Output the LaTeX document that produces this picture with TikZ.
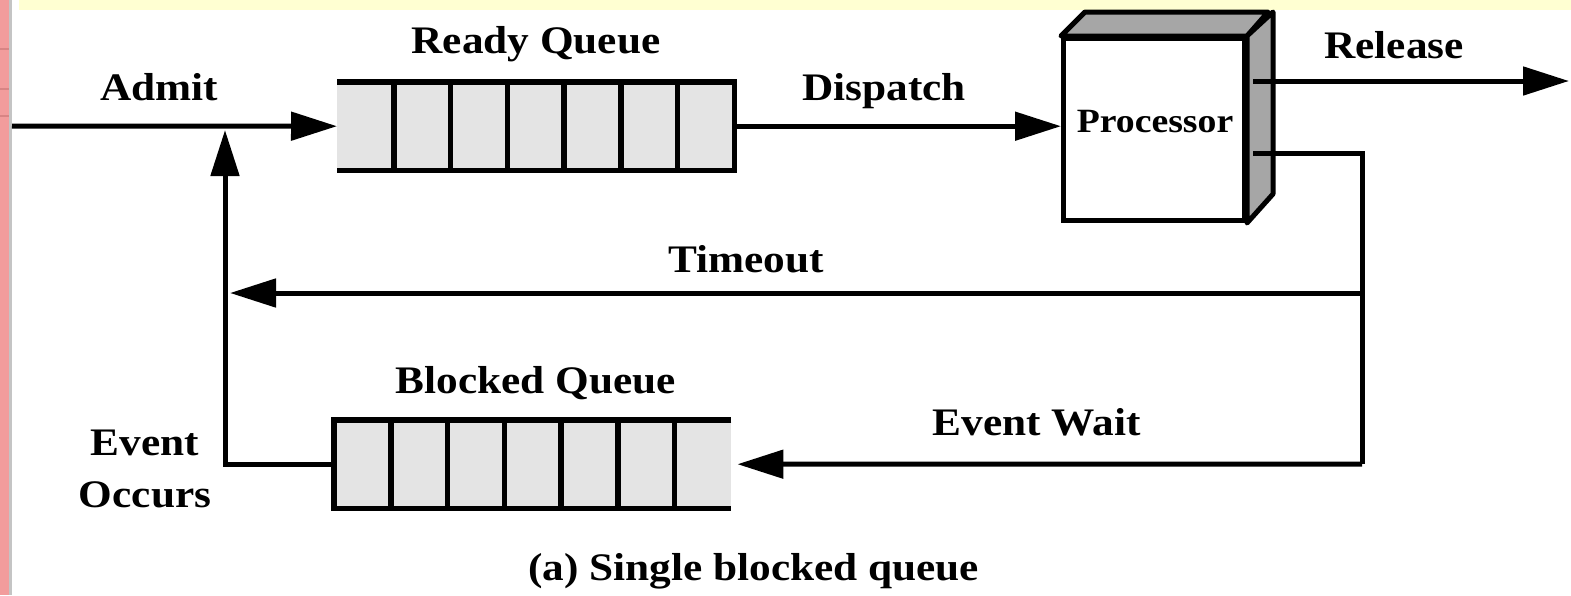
\documentclass[tikz,border=0pt]{standalone}
\usepackage{fontspec}
\setmainfont{Liberation Serif}[FakeStretch=1.11]
\usetikzlibrary{arrows.meta,calc}
\definecolor{qgray}{HTML}{E4E4E4}
\definecolor{sidegray}{HTML}{A6A6A6}
\definecolor{bandyellow}{HTML}{FFFFD2}
\definecolor{stripred}{HTML}{F29C9C}
\definecolor{stripdark}{HTML}{D88484}
\definecolor{stripline}{HTML}{C4C4C4}
\begin{document}
\begin{tikzpicture}[x=1pt,y=-1pt,
  conn/.style={line width=5pt,-{Triangle[length=46pt,width=28pt]}},
  plain/.style={line width=5pt},
  qline/.style={line width=5.5pt},
  queuebox/.style={draw=none,fill=qgray,minimum width=397pt,minimum height=88pt,inner sep=0pt,anchor=north west},
  lbl/.style={font=\fontsize{39}{45}\selectfont\bfseries,inner sep=0pt,anchor=base},
  plbl/.style={font=\fontsize{34}{38}\selectfont\bfseries,inner sep=0pt,anchor=base}
]
\fill[white] (0,0) rectangle (1571,595);
\useasboundingbox (0,0) rectangle (1571,595);
% frame decorations
\fill[bandyellow] (19,0) rectangle (1571,10);
\fill[stripred] (0,0) rectangle (9,595);
\fill[stripline] (9,0) rectangle (12,595);
\foreach \yy in {48,88,115} \fill[stripdark] (0,\yy) rectangle (9,\yy+2);

% queues
\node[queuebox] (rq) at (337,82) {};
\draw[qline] (rq.north west) -- (rq.north east) -- (rq.south east) -- (rq.south west);
\foreach \i in {1,...,6}
  \draw[qline] ($(rq.north west)!\i/7!(rq.north east)$) -- ($(rq.south west)!\i/7!(rq.south east)$);

\node[queuebox] (bq) at (334,420) {};
\draw[qline] (bq.north east) -- (bq.north west) -- (bq.south west) -- (bq.south east);
\foreach \i in {1,...,6}
  \draw[qline] ($(bq.north west)!\i/7!(bq.north east)$) -- ($(bq.south west)!\i/7!(bq.south east)$);

% processor
\node[draw,fill=white,line width=5pt,minimum width=181pt,minimum height=182pt,inner sep=0pt,anchor=north west] (proc) at (1061,36) {};
\draw[line width=5pt,fill=sidegray,line join=round] (proc.north west) -- ++(24,-24) -- ++(183,0) -- (proc.north east) -- cycle;
\draw[line width=5pt,fill=sidegray,line join=round] (proc.north east) -- ++(26,-24) -- ++(0,182) -- (proc.south east) -- cycle;
\node[plbl] (ptext) at (1155,132) {Processor};

% coordinates
\coordinate (in) at (12,126);
\coordinate (join) at (225,130);
\coordinate (r0) at (1253,81);
\coordinate (rout) at (1569,81);
\coordinate (l0) at (1253,153);
\coordinate (ewc) at (1362,464);
\coordinate (tm) at (1362,293);
\coordinate (tmend) at (230,293);

% connectors
\draw[conn] (in) -- (rq.west);
\draw[conn] (rq.east) -- (rq.east -| proc.west);
\draw[conn] (r0) -- (rout);
\draw[plain] (l0) -| (ewc);
\draw[conn] (tm) -- (tmend);
\draw[conn,shorten >=6pt] (ewc) -- (bq.east);
\draw[conn] (bq.west) -| (join);

% labels
\node[lbl] (admit) at (159,100) {Admit};
\node[lbl] (rql) at (536,53) {Ready Queue};
\node[lbl] (disp) at (884,100) {Dispatch};
\node[lbl] (rel) at (1394,58) {Release};
\node[lbl] (tmo) at (746,272) {Timeout};
\node[lbl] (bql) at (536,393) {Blocked Queue};
\node[lbl] (ewl) at (1037,435) {Event Wait};
\node[lbl] (ev) at (145,455) {Event};
\node[lbl] (occ) at (145,507) {Occurs};
\node[lbl,anchor=base west] (cap) at (528,580) {(a) Single blocked queue};
\end{tikzpicture}
\end{document}
